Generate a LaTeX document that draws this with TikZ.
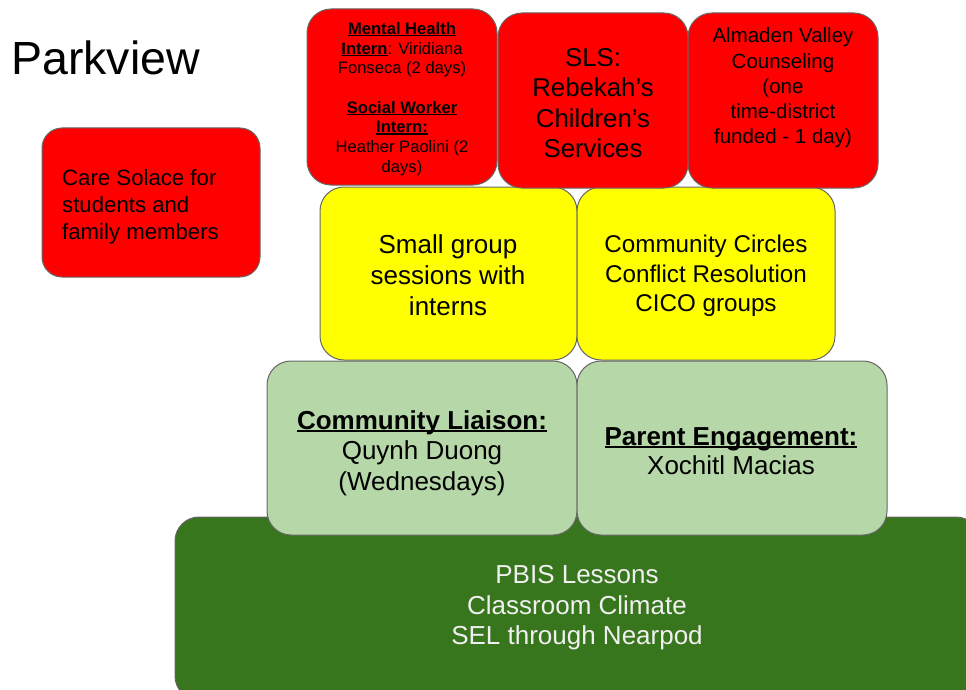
\documentclass[tikz,border=0pt]{standalone}
\usepackage{fontspec}
\setmainfont{Liberation Sans}
\definecolor{bred}{HTML}{FF0000}
\definecolor{byellow}{HTML}{FFFF00}
\definecolor{blgreen}{HTML}{B6D7A8}
\definecolor{bdgreen}{HTML}{38761D}
\definecolor{bborder}{HTML}{666666}
\newcommand{\fs}[2]{\fontsize{#1}{#2}\selectfont}
\newsavebox{\ulbox}
\newcommand{\ul}[1]{\sbox{\ulbox}{#1}\leavevmode\rlap{\rule[-0.11em]{\wd\ulbox}{0.075em}}\usebox{\ulbox}}
\begin{document}
\begin{tikzpicture}[x=1pt,y=-1pt,
  box/.style={draw=bborder, line width=1pt, rounded corners=24pt, inner sep=0pt},
  txt/.style={align=center, inner sep=0pt, text=black}]
\useasboundingbox (0,0) rectangle (966,690);
\begin{scope}
\clip (0,0) rectangle (966,690);
% bottom dark green
\draw[box, fill=bdgreen] (175,517) rectangle (980,700);
\coordinate (bottomc) at (577,608);
\node[txt, text=white!94!black, font=\fs{26}{30.5}] (pbis) at (bottomc) {PBIS Lessons\\Classroom Climate\\SEL through Nearpod};
% light green
\draw[box, fill=blgreen] (267,361) rectangle (577,535);
\draw[box, fill=blgreen] (577,361) rectangle (887,535);
\node[txt, font=\fs{26}{30.5}] (liaison) at (422,453) {\ul{\textbf{Community Liaison:}}\\Quynh Duong\\(Wednesdays)};
\node[txt, font=\fs{26}{29.5}] (parent) at (731,451) {\ul{\textbf{Parent Engagement:}}\\Xochitl Macias};
% yellow
\draw[box, fill=byellow] (320,187) rectangle (577,360);
\draw[box, fill=byellow] (577,187) rectangle (835,360);
\node[txt, font=\fs{26}{31}] (small) at (448,275) {Small group\\sessions with\\interns};
\node[txt, font=\fs{24.2}{29.5}] (circles) at (706,276) {Community Circles\\Conflict Resolution\\CICO groups};
% red top
\draw[box, fill=bred] (307,9) rectangle (497,185);
\draw[box, fill=bred] (498,13) rectangle (688,188);
\draw[box, fill=bred] (688,13) rectangle (878,188);
\node[txt, font=\fs{16.6}{19.7}] (mh) at (402,99) {\ul{\textbf{Mental Health}}\\\ul{\textbf{Intern}}: Viridiana\\Fonseca (2 days)\\[19.7pt]\ul{\textbf{Social Worker}}\\\ul{\textbf{Intern:}}\\Heather Paolini (2\\days)};
\node[txt, font=\fs{25.8}{30.5}] (sls) at (593,103) {SLS:\\Rebekah’s\\Children’s\\Services};
\node[txt, font=\fs{20.5}{25.2}] (almaden) at (783,88) {Almaden Valley\\Counseling\\(one\\time-district\\funded - 1 day)};
% care solace
\draw[box, rounded corners=20pt, fill=bred] (42,128) rectangle (260,277);
\node[txt, align=left, anchor=west, font=\fs{22.2}{27}] (care) at (62,207) {Care Solace for\\students and\\family members};
% title
\node[anchor=base west, inner sep=0pt, font=\fs{46.5}{50}] (title) at (11,75) {Parkview};
\end{scope}
\end{tikzpicture}
\end{document}
